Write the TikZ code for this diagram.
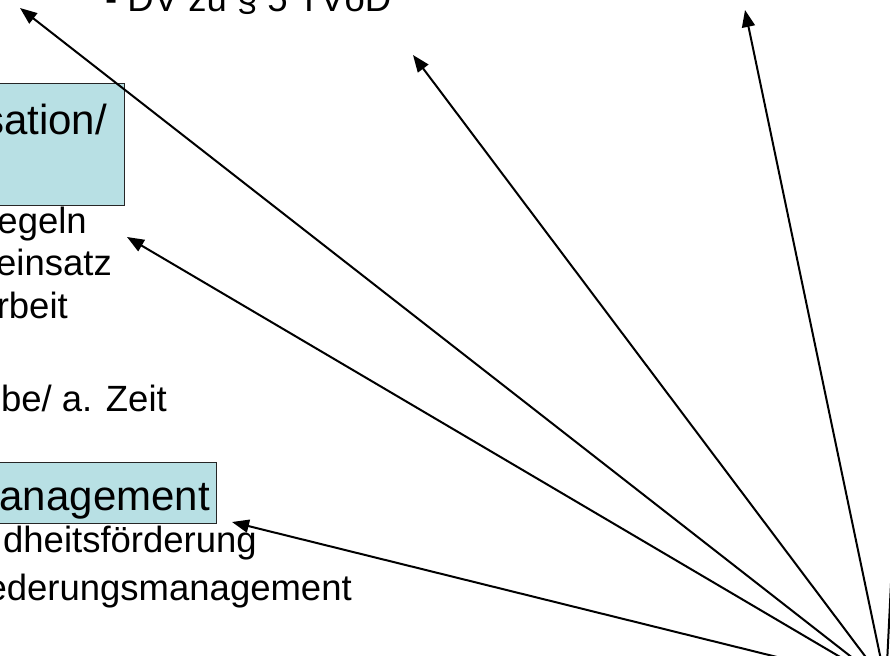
\documentclass[tikz,border=0pt]{standalone}
\usepackage{fontspec}
\setmainfont{Liberation Sans}
\usetikzlibrary{arrows.meta, positioning}

\definecolor{topiccyan}{RGB}{184,224,228}

\tikzset{
  topicbox/.style={draw=black!85, line width=1.4pt, fill=topiccyan, inner sep=0pt},
  itemtext/.style={font=\fontsize{36.5}{44}\selectfont, inner sep=0pt, anchor=base east},
  boxtext/.style={font=\fontsize{42}{50}\selectfont, inner sep=0pt, anchor=base east},
  link/.style={-{Triangle[length=17pt,width=13pt]}, line width=2pt},
}

\begin{document}
\begin{tikzpicture}[x=1pt, y=-1pt]
    \useasboundingbox (0,0) rectangle (890,655);
    \clip (0,0) rectangle (890,655);

    % --- Text at the top ---
    \node[itemtext, anchor=base west] (dv_text) at (105,12) {- DV zu § 5 TVöD};

    % --- First box and its items ---
    \node[topicbox, minimum width=160pt, minimum height=122pt, anchor=north east] (org_box) at (125,83) {};
    \node[boxtext] (org_text) at (107,135) {sation/};
    \node[itemtext] (item_a) at (87,233) {egeln};
    \node[itemtext] (item_b) at (112,275) {einsatz};
    \node[itemtext] (item_c) at (68,318) {rbeit};
    \node[itemtext] (item_d) at (167,411) {obe/ a. Zeit};

    % --- Second box and its items ---
    \node[topicbox, minimum width=250pt, minimum height=61pt, anchor=north east] (mgmt_box) at (217,462) {};
    \node[boxtext] (mgmt_text) at (210,510) {anagement};
    \node[itemtext] (item_e) at (257,552) {dheitsförderung};
    \node[itemtext] (item_f) at (352,600) {ederungsmanagement};

    % --- Arrow ends ---
    \coordinate (hub) at (886,684);
    \coordinate (tip_a) at (20,8);
    \coordinate (tip_b) at (413,55);
    \coordinate (tip_c) at (745,10);
    \coordinate (tip_d) at (127,237);
    \coordinate (tip_e) at (232,522);
    \coordinate (tip_f) at (905,300);

    % --- Arrows ---
    \foreach \t in {tip_a, tip_b, tip_c, tip_d, tip_e, tip_f}
        \draw[link] (hub) -- (\t);
\end{tikzpicture}
\end{document}
